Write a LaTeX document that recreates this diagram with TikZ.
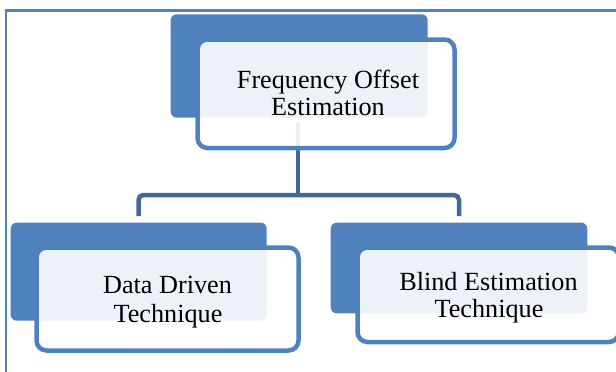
\documentclass[tikz,border=0pt]{standalone}
\usepackage{fontspec}
\setmainfont{Liberation Serif}
\definecolor{boxblue}{HTML}{4F81BD}
\definecolor{connblue}{HTML}{41689B}
\begin{document}
\begin{tikzpicture}[x=1pt,y=-1pt,
  backbox/.style={fill=boxblue,draw=none,rounded corners=6pt},
  frontbox/.style={draw=boxblue,line width=4.5pt,fill=white,fill opacity=0.9,rounded corners=10pt},
  conn/.style={draw=connblue,line width=4.5pt,rounded corners=5pt},
  frame/.style={draw=boxblue,line width=2.8pt},
  lbl/.style={anchor=base,inner sep=0pt,font=\fontsize{26.2}{28}\selectfont,text=black}]
\useasboundingbox (0,0) rectangle (616,372);
\clip (0,0) rectangle (616,372);
% frame
\coordinate (fa) at (6,380);
\coordinate (fb) at (6,10.5);
\coordinate (fc) at (630,10.5);
\draw[frame] (fa) -- (fb) -- (fc);
% back boxes
\path[backbox] (170.7,14.3) rectangle (427.7,117.7);
\path[backbox] (10.7,222.7) rectangle (266.7,320.7);
\path[backbox] (330.7,222.7) rectangle (587.3,313.3);
% connectors
\coordinate (c0) at (298,123);
\coordinate (j) at (298,195);
\coordinate (cl) at (138.5,216);
\coordinate (cr) at (459,216);
\draw[conn] (c0) -- (j);
\draw[conn] (cl) |- (j) -| (cr);
% front boxes
\path[frontbox] (197.5,39.5) rectangle (454.5,148);
\path[frontbox] (36.5,247.5) rectangle (298.5,350.5);
\path[frontbox] (357.5,247.5) rectangle (619,342);
% labels
\node[lbl] (t1a) at (328,88) {Frequency Offset};
\node[lbl] (t1b) at (328,115) {Estimation};
\node[lbl] (t2a) at (167.5,293) {Data Driven};
\node[lbl] (t2b) at (168,322) {Technique};
\node[lbl] (t3a) at (488.5,290) {Blind Estimation};
\node[lbl] (t3b) at (489,317) {Technique};
\end{tikzpicture}
\end{document}
